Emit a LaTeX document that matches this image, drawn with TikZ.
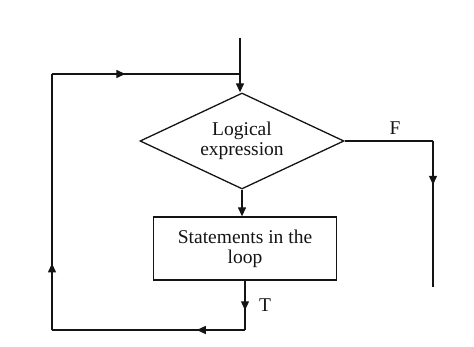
\documentclass[tikz,border=0pt]{standalone}
\usepackage{fontspec}
\setmainfont{Liberation Serif}
\usetikzlibrary{shapes.geometric, arrows.meta, decorations.markings}

\begin{document}
\begin{tikzpicture}[x=1pt, y=-1pt,
  flowline/.style={line width=1.3pt, draw=FlowInk},
  midtip/.style={postaction={decorate}, decoration={markings,
    mark=at position #1 with {\arrow{Triangle[length=9pt, width=8pt]}}}},
  boxtext/.style={font=\fontsize{19.5}{20}\selectfont, align=center, text=FlowInk}]

% Define Ink Colour
\definecolor{FlowInk}{HTML}{141414}

\useasboundingbox (0,0) rectangle (474,347);

\begin{scope}

  % Decision and loop body
  \node[diamond, flowline, aspect=2.12, minimum width=204pt, minimum height=96pt,
        inner sep=0pt, boxtext] (cond) at (242,141) {Logical\\expression};
  \node[rectangle, flowline, minimum width=183pt, minimum height=63pt,
        boxtext] (body) at (245,248.5) {Statements in the\\loop};

  % Corner points of the loop
  \coordinate (entry) at (240,38);
  \coordinate (join) at (240,74);
  \coordinate (lefttop) at (52,74);
  \coordinate (leftbot) at (52,330);
  \coordinate (botT) at (body.south |- leftbot);
  \coordinate (fcorner) at (433,141);
  \coordinate (fend) at (433,287);

  % Entry into the test
  \draw[flowline] (entry) -- (join);
  \draw[flowline, -{Triangle[length=9pt, width=8pt]}] (join) -- (join |- cond.north);

  % True branch through the body and back round
  \draw[flowline, -{Triangle[length=9pt, width=8pt]}] (cond.south) -- (cond.south |- body.north);
  \draw[flowline, midtip=0.6] (body.south) -- (botT);
  \draw[flowline, midtip=0.25] (botT) -- (leftbot);
  \draw[flowline, midtip=0.26] (leftbot) -- (lefttop);
  \draw[flowline, midtip=0.39] (lefttop) -- (join);
  \node[boxtext] (tlabel) at (265,305) {T};

  % False branch out of the loop
  \draw[flowline] (cond.east) -- (fcorner);
  \draw[flowline, midtip=0.3] (fcorner) -- (fend);
  \node[boxtext] (flabel) at (395,128) {F};

\end{scope}

\end{tikzpicture}
\end{document}
